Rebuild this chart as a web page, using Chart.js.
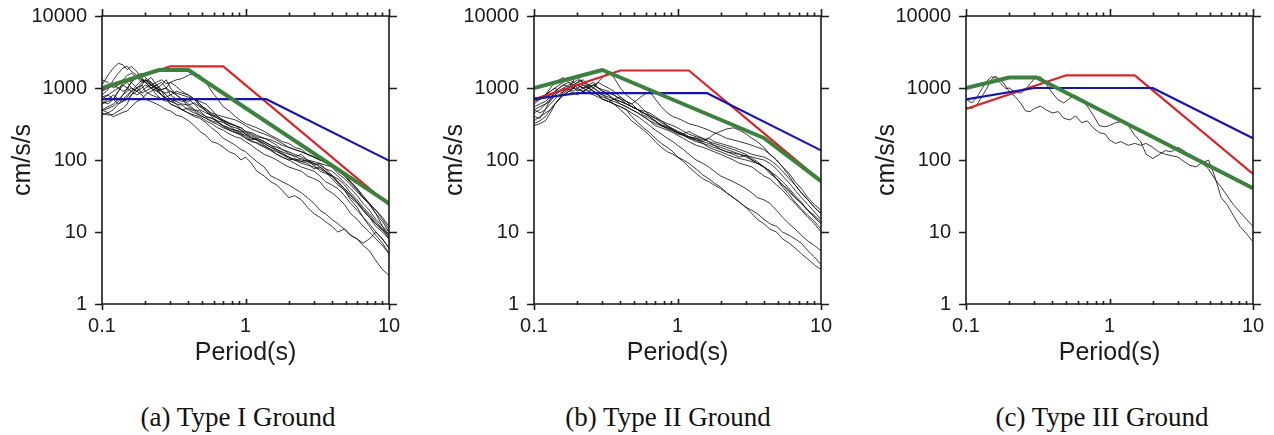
<!DOCTYPE html>
<html><head><meta charset="utf-8">
<script src="https://cdn.jsdelivr.net/npm/chart.js@4.4.1/dist/chart.umd.min.js"></script>
<style>
html,body{margin:0;padding:0;background:#fff;width:1274px;height:435px;overflow:hidden;position:relative}
.cv{position:absolute;top:0}
.cap{position:absolute;top:402px;line-height:30px;font-family:"Liberation Serif","Times New Roman",serif;font-size:27px;color:#111;white-space:nowrap;transform:translateX(-50%)}
</style></head><body>
<canvas id="c1" class="cv" width="410" height="380" style="left:0px"></canvas>
<canvas id="c2" class="cv" width="410" height="380" style="left:432px"></canvas>
<canvas id="c3" class="cv" width="410" height="380" style="left:864px"></canvas>
<div class="cap" style="left:238px">(a) Type I Ground</div>
<div class="cap" style="left:668px">(b) Type II Ground</div>
<div class="cap" style="left:1102px">(c) Type III Ground</div>
<script>
// ---- axis ticks ----
const xTickVals = [0.1, 1, 10];
const xTickLabels = ['0.1', '1', '10'];
const xMinorVals = [0.2,0.3,0.4,0.5,0.6,0.7,0.8,0.9,2,3,4,5,6,7,8,9];
const yTickVals = [1, 10, 100, 1000, 10000];
const yTickLabels = ['1', '10', '100', '1000', '10000'];

// ---- period grid shared by the recorded spectra ----
const periods = [0.1,0.11,0.12,0.13,0.14,0.15,0.16,0.175,0.19,0.2,0.22,0.24,0.26,0.28,0.3,0.33,0.36,0.4,0.44,0.48,0.53,0.58,0.64,0.7,0.77,0.85,0.93,1.0,1.1,1.2,1.35,1.5,1.65,1.8,2.0,2.2,2.45,2.7,3.0,3.3,3.6,4.0,4.4,4.9,5.4,6.0,6.6,7.3,8.1,9.0,10];

// ---- Type I ground: recorded spectra (cm/s/s) ----
const g1r01 = [1100,1500,1900,2200,2100,1800,2000,1700,1300,1200,1400,1100,950,1000,1200,1050,900,800,700,560,520,430,400,360,330,300,260,240,220,200,180,160,150,140,125,110,120,100,85,90,75,62,50,40,33,26,21,17,13,11,9.5];
const g1r02 = [800,950,1300,1600,1900,2000,1700,1500,1600,1400,1200,1000,1100,1300,1000,800,700,650,720,600,480,420,380,340,300,260,250,230,200,190,160,140,120,110,100,105,95,90,75,80,70,55,45,38,30,25,20,16,13,10.5,9];
const g1r03 = [450,420,430,480,520,600,800,1000,1100,1300,1150,950,800,700,650,600,580,500,450,420,380,350,330,300,280,250,230,220,200,190,170,150,140,130,120,115,100,95,85,70,65,60,55,45,35,28,22,18,14,11,8];
const g1r04 = [500,450,400,430,460,480,550,650,700,800,900,1000,900,700,650,680,700,550,500,480,400,380,340,290,260,240,230,200,180,175,155,140,130,120,105,100,95,100,90,85,75,70,60,48,40,32,25,20,15,12,10];
const g1r05 = [700,800,900,1000,1100,1000,900,800,900,1000,1100,1200,1300,1150,1200,1300,1350,1500,1600,1500,1200,900,700,550,480,400,350,320,300,280,250,220,200,180,170,150,140,120,110,100,95,85,70,60,50,40,32,25,20,16,12];
const g1r06 = [600,650,700,900,1200,1300,1200,1000,850,900,1000,1100,900,800,700,650,600,580,620,550,480,400,340,300,270,260,240,210,190,200,180,160,140,125,110,100,90,85,80,75,68,60,50,40,32,26,20,16,12,10,8];
const g1r07 = [500,550,600,700,800,900,1000,900,800,700,650,600,550,500,480,420,400,350,300,250,220,180,170,150,130,120,100,110,90,70,60,50,45,38,30,32,28,22,18,16,14,12,10,11,9,8,6.5,5.5,4,3,2.5];
const g1r08 = [650,600,700,900,1100,1200,1000,900,1100,900,800,750,700,650,700,600,500,450,400,380,330,280,240,200,180,160,140,130,110,95,80,60,55,50,45,40,35,30,25,20,18,15,13,11,9,8,7,8,10,8,6];
const g1r09 = [480,520,560,650,800,1000,1200,1400,1300,1200,1100,1000,900,850,900,800,700,600,500,450,400,380,350,330,300,280,260,230,210,190,170,150,135,120,110,100,105,95,90,80,70,60,48,38,28,22,16,12,9,7,5];
const g1r10 = [900,1000,1100,1000,900,950,1200,1500,1400,1200,1000,900,950,1000,800,700,650,700,600,500,450,420,380,350,320,300,280,250,240,220,200,180,160,140,130,120,110,100,95,90,85,80,75,65,50,40,30,24,18,14,10];
const g1r11 = [1300,1200,1000,1100,1300,1500,1600,1400,1200,1300,1200,1000,800,700,600,550,500,520,480,420,380,340,310,280,260,240,220,200,185,170,150,135,120,110,100,90,80,75,70,60,50,45,40,32,25,20,16,13,10,8,6];
const g1r12 = [600,700,800,700,650,700,800,900,1000,1100,1000,800,700,750,800,900,850,800,700,600,500,450,420,400,380,360,330,300,270,250,230,210,190,170,150,140,130,120,110,100,92,80,65,55,45,36,30,25,18,12,8.5];
const g1r13 = [420,450,500,600,700,800,900,1000,1200,1300,1100,900,800,700,600,550,500,450,420,400,350,320,280,260,230,210,200,180,160,140,120,110,100,90,80,75,70,60,55,50,40,35,30,24,18,15,12,10,8,6.5,5];
const g1r14 = [750,800,700,600,650,750,900,1100,1300,1200,1000,1100,1200,1000,900,850,800,750,700,650,600,500,400,350,320,300,280,250,230,210,200,190,175,160,150,140,130,120,110,100,95,85,75,60,48,38,30,25,20,15,11];

// ---- Type II ground: recorded spectra ----
const g2r01 = [600,700,800,900,1000,900,850,950,1000,1100,1000,900,1000,1200,1400,1700,1400,1000,800,700,600,500,420,380,350,320,300,280,250,230,210,200,180,170,160,150,140,130,120,105,95,80,70,55,45,36,30,25,20,17,14];
const g2r02 = [750,700,800,1000,1200,1300,1400,1200,1100,1200,1300,1100,1000,900,800,750,700,650,600,550,500,450,400,350,300,280,260,240,220,210,200,190,200,180,170,160,150,140,130,120,115,110,100,85,70,55,45,35,28,22,18];
const g2r03 = [400,380,500,700,900,1000,1100,1200,1000,900,1000,1100,1200,1000,900,850,800,700,600,550,500,480,450,400,350,300,260,240,230,250,220,200,180,160,140,130,120,110,115,100,90,80,65,55,45,38,30,25,20,16,13];
const g2r04 = [300,320,350,450,600,700,800,900,1000,1100,1000,900,850,800,700,650,600,500,420,350,300,260,220,180,150,130,120,110,95,80,65,55,50,45,40,35,30,26,22,20,18,15,13,12,10,9,8,7,5.5,4.5,3.5];
const g2r05 = [350,400,450,500,600,700,900,1000,1100,1000,900,1000,900,800,750,700,600,550,500,400,330,280,240,200,170,150,130,110,100,90,75,62,55,48,42,35,30,26,22,18,15,13,11,10,8,7,6,5,4.2,3.5,3];
const g2r06 = [500,550,600,650,800,900,1000,950,900,1000,1100,1000,900,800,700,650,600,550,500,450,400,350,300,260,230,200,180,160,140,120,100,90,80,70,60,55,50,45,40,35,30,28,25,20,16,13,11,9,7.5,6.5,5.5];
const g2r07 = [650,700,750,800,900,1000,1100,1050,1000,950,900,850,800,750,700,650,700,750,650,600,700,800,900,700,550,450,400,380,350,320,300,280,260,240,220,200,190,180,170,160,150,140,120,100,80,60,45,35,28,22,18];
const g2r08 = [550,600,650,750,850,900,950,1000,1100,1200,1100,1000,900,850,800,700,650,600,550,500,450,400,350,320,300,280,260,240,220,200,190,180,200,230,250,270,280,260,230,200,180,150,120,100,80,65,50,40,30,24,20];
const g2r09 = [450,500,600,700,800,900,1000,1100,1200,1300,1200,1100,1000,900,850,800,700,600,550,500,450,400,350,300,280,260,240,220,200,180,160,150,140,130,120,110,100,90,85,80,70,60,55,45,38,30,25,20,16,13,10];
const g2r10 = [700,750,800,900,1000,1100,1200,1300,1200,1100,1000,1050,1100,1000,950,900,800,700,650,600,500,450,400,350,300,270,250,230,220,200,180,170,160,150,140,130,125,120,110,100,90,80,70,60,50,40,32,26,20,16,13];
const g2r11 = [320,350,400,500,600,700,800,900,850,800,900,1000,1100,1000,900,800,700,650,600,550,500,420,380,340,310,290,270,250,230,210,190,170,150,140,130,120,110,105,100,95,90,80,70,55,42,33,26,21,17,14,11];
const g2r12 = [500,450,500,600,700,800,900,1000,1300,1400,1200,1000,1100,1200,1100,1000,900,750,650,550,500,450,420,380,330,300,270,250,230,210,200,180,170,160,150,140,130,120,115,110,105,100,90,75,60,48,38,30,24,19,15];

// ---- Type III ground: recorded spectra ----
const g3r01 = [700,620,760,1000,1250,1420,1400,1150,980,1000,880,850,950,1150,1350,1440,1150,850,680,620,720,780,700,560,420,300,290,300,330,340,300,220,180,120,105,118,135,130,150,135,115,100,90,100,60,30,24,17,12,9.5,7.3];
const g3r02 = [540,520,600,780,1000,1300,1450,1300,1050,900,760,620,480,470,520,560,500,450,470,380,360,410,330,350,280,240,230,190,170,180,160,170,160,170,150,130,120,115,110,95,85,80,92,75,55,42,32,24,19,15,12];

// ---- design spectra ----
const red1T = [0.1, 0.3, 0.7, 10],   red1S = [961, 2000, 2000, 23.7];
const blue1T = [0.1, 1.4, 10],       blue1S = [700, 700, 98];
const green1T = [0.1, 0.25, 0.4, 10], green1S = [1000, 1780, 1780, 25];

const red2T = [0.1, 0.4, 1.2, 10],   red2S = [694, 1750, 1750, 51];
const blue2T = [0.1, 0.2, 1.6, 10],  blue2S = [700, 850, 850, 136];
const green2T = [0.1, 0.3, 4.0, 10], green2S = [1000, 1780, 202, 51];

const red3T = [0.1, 0.5, 1.5, 10],   red3S = [513, 1500, 1500, 64];
const blue3T = [0.1, 0.3, 2.0, 10],  blue3S = [693, 1000, 1000, 200];
const green3T = [0.1, 0.2, 0.31, 10], green3S = [1000, 1400, 1400, 40.5];

const RED = 'rgb(214,38,40)', BLUE = 'rgb(22,22,172)', GREEN = 'rgb(62,128,62)', INK = '#1a1a1a';

const framePlugin = {
  id: 'frame',
  afterDatasetsDraw(chart) {
    const {ctx, chartArea: a, scales: {x, y}} = chart;
    ctx.save();
    ctx.strokeStyle = INK;
    ctx.lineWidth = 1.6;
    ctx.beginPath();
    ctx.rect(a.left, a.top, a.right - a.left, a.bottom - a.top);
    for (const v of yTickVals) {
      const py = Math.round(y.getPixelForValue(v)) + 0.5;
      ctx.moveTo(a.left - 7, py); ctx.lineTo(a.left, py);
      ctx.moveTo(a.right, py); ctx.lineTo(a.right + 8, py);
    }
    xTickVals.forEach((v, i) => {
      const px = Math.round(x.getPixelForValue(v)) + 0.5;
      ctx.moveTo(px, a.top - 7); ctx.lineTo(px, a.top);
      if (i === 1) { ctx.moveTo(px, a.bottom); ctx.lineTo(px, a.bottom - 5); }
      else { ctx.moveTo(px, a.bottom); ctx.lineTo(px, a.bottom + 6); }
    });
    for (const v of xMinorVals) {
      const px = Math.round(x.getPixelForValue(v)) + 0.5;
      ctx.moveTo(px, a.top - 3.5); ctx.lineTo(px, a.top);
      ctx.moveTo(px, a.bottom + 1); ctx.lineTo(px, a.bottom - 3);
    }
    ctx.stroke();
    ctx.restore();
  }
};

function pts(T, S) { return T.map((t, i) => ({x: t, y: S[i]})); }

function makeChart(id, recs, red, blue, green) {
  const ds = recs.map(r => ({
    data: pts(periods, r), borderColor: 'rgba(10,10,10,0.8)', borderWidth: 1,
    pointRadius: 0, tension: 0, order: 10
  }));
  ds.push({data: pts(red[0], red[1]), borderColor: RED, borderWidth: 2.2, pointRadius: 0, order: 3});
  ds.push({data: pts(blue[0], blue[1]), borderColor: BLUE, borderWidth: 2.2, pointRadius: 0, order: 2});
  ds.push({data: pts(green[0], green[1]), borderColor: GREEN, borderWidth: 4, pointRadius: 0, order: 1});
  const tickFont = {family: '"Liberation Sans", Arial, sans-serif', size: 20};
  const titleFont = {family: '"Liberation Sans", Arial, sans-serif', size: 25};
  new Chart(document.getElementById(id), {
    type: 'line',
    data: {datasets: ds},
    options: {
      responsive: false, animation: false, devicePixelRatio: 1,
      layout: {padding: {left: 0, right: 21, top: 16, bottom: 0}},
      plugins: {legend: {display: false}, tooltip: {enabled: false}},
      elements: {line: {borderJoinStyle: 'round', borderCapStyle: 'butt'}},
      scales: {
        x: {
          type: 'logarithmic', min: 0.1, max: 10, position: 'bottom',
          grid: {display: false, drawTicks: false}, border: {display: false},
          afterBuildTicks: s => { s.ticks = xTickVals.map(v => ({value: v})); },
          afterFit: s => { s.height = 76; s.paddingLeft = 0; s.paddingRight = 0; s.paddingTop = 0; s.paddingBottom = 0; },
          ticks: {autoSkip: false, maxRotation: 0, padding: 10, color: INK, font: tickFont,
                  callback: (v, i) => xTickLabels[i]},
          title: {display: true, text: 'Period(s)', color: INK, font: titleFont, padding: {top: 0, bottom: 12}}
        },
        y: {
          type: 'logarithmic', min: 1, max: 10000, position: 'left',
          grid: {display: false, drawTicks: false}, border: {display: false},
          afterBuildTicks: s => { s.ticks = yTickVals.map(v => ({value: v})); },
          afterFit: s => { s.width = 102; s.paddingTop = 0; s.paddingBottom = 0; s.paddingLeft = 0; s.paddingRight = 0; },
          ticks: {autoSkip: false, padding: 15, color: INK, font: tickFont,
                  callback: (v, i) => yTickLabels[i]},
          title: {display: true, text: 'cm/s/s', color: INK, font: titleFont, padding: {top: 8, bottom: 0}}
        }
      }
    },
    plugins: [framePlugin]
  });
}

makeChart('c1', [g1r01,g1r02,g1r03,g1r04,g1r05,g1r06,g1r07,g1r08,g1r09,g1r10,g1r11,g1r12,g1r13,g1r14],
  [red1T, red1S], [blue1T, blue1S], [green1T, green1S]);
makeChart('c2', [g2r01,g2r02,g2r03,g2r04,g2r05,g2r06,g2r07,g2r08,g2r09,g2r10,g2r11,g2r12],
  [red2T, red2S], [blue2T, blue2S], [green2T, green2S]);
makeChart('c3', [g3r01,g3r02],
  [red3T, red3S], [blue3T, blue3S], [green3T, green3S]);
</script>
</body></html>
